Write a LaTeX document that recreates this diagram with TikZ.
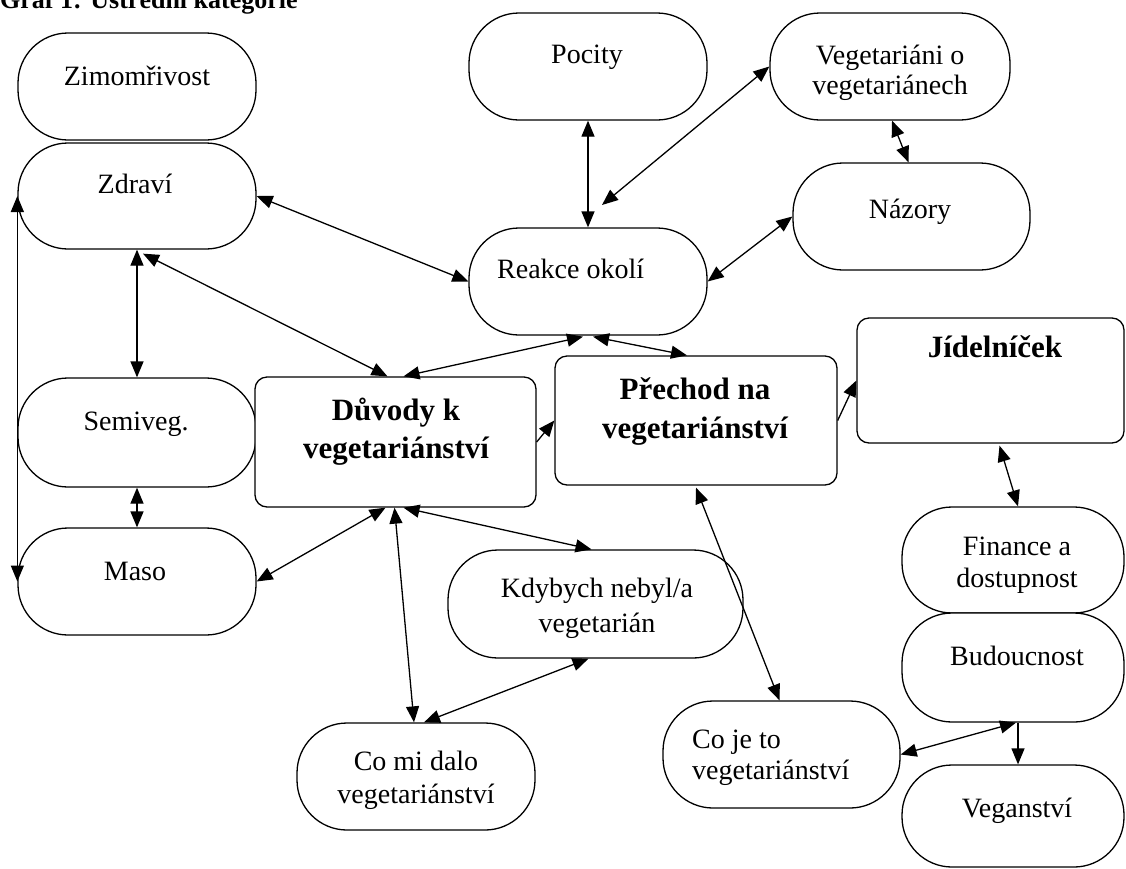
\documentclass[tikz,border=0pt]{standalone}
\usepackage{fontspec}
\setmainfont{Liberation Serif}
\usetikzlibrary{arrows.meta,calc}
\tikzset{
  stad/.style={draw, line width=1.3pt, rounded corners=50pt, inner sep=0pt, fill=white},
  rbox/.style={draw, line width=1.3pt, rounded corners=12pt, inner sep=0pt, fill=white},
  lbl/.style={font=\fontsize{28}{32}\selectfont, anchor=base, inner sep=0pt},
  lblw/.style={font=\fontsize{28}{32}\selectfont, anchor=base west, inner sep=0pt},
  blbl/.style={font=\fontsize{31}{38}\selectfont\bfseries, anchor=base, inner sep=0pt},
  conn/.style={line width=1.3pt, {Triangle[length=16pt,width=13pt]}-{Triangle[length=16pt,width=13pt]}},
  oneway/.style={line width=1.3pt, -{Triangle[length=16pt,width=13pt]}}
}
\begin{document}
\begin{tikzpicture}[x=1pt,y=-1pt]
\useasboundingbox (0,0) rectangle (1126,868);
% title (cut by the page edge, as in the reference)
\node[font=\fontsize{26}{30}\selectfont\bfseries, anchor=base west, inner sep=0pt] (title) at (0,8) {Graf 1: Ústřední kategorie};
% boxes
\node[stad, minimum width=238pt, minimum height=107pt] (zimo) at (137,86.5) {};
\node[stad, minimum width=238pt, minimum height=106pt] (zdr) at (137,196) {};
\node[stad, minimum width=238pt, minimum height=109pt] (semi) at (137,432.5) {};
\node[stad, minimum width=238pt, minimum height=107pt] (maso) at (137,581.5) {};
\node[rbox, minimum width=281pt, minimum height=130pt] (duv) at (395.5,442) {};
\node[rbox, minimum width=282pt, minimum height=129pt] (pre) at (696,420.5) {};
\node[rbox, minimum width=267pt, minimum height=125pt] (jid) at (990.5,380.5) {};
\node[stad, minimum width=238pt, minimum height=107pt] (poc) at (588,66.5) {};
\node[stad, minimum width=240pt, minimum height=107pt] (veg) at (890,66.5) {};
\node[stad, minimum width=237pt, minimum height=107pt] (naz) at (911.5,216.5) {};
\node[stad, minimum width=238pt, minimum height=107pt] (reak) at (588,281.5) {};
\node[stad, minimum width=295pt, minimum height=108pt] (kdy) at (595.5,604) {};
\node[stad, minimum width=222pt, minimum height=106pt] (fin) at (1013,560) {};
\node[stad, minimum width=222pt, minimum height=109pt] (bud) at (1013,667.5) {};
\node[stad, minimum width=222pt, minimum height=102pt] (vegan) at (1013,816) {};
\node[stad, minimum width=237pt, minimum height=107pt] (coje) at (781.5,754.5) {};
\node[stad, minimum width=238pt, minimum height=107pt] (comi) at (416,776.5) {};
% texts
\node[lbl] (t1) at (137,85) {Zimomřivost};
\node[lbl] (t2) at (135,193) {Zdraví};
\node[lbl] (t3) at (136,430) {Semiveg.};
\node[lbl] (t4) at (135,580) {Maso};
\node[blbl] (t5a) at (396,420) {Důvody k};
\node[blbl] (t5b) at (396,458) {vegetariánství};
\node[blbl] (t6a) at (695,399) {Přechod na};
\node[blbl] (t6b) at (695,438) {vegetariánství};
\node[blbl] (t7) at (995,357) {Jídelníček};
\node[lbl] (t8) at (587,63) {Pocity};
\node[lbl] (t9a) at (890,64) {Vegetariáni o};
\node[lbl] (t9b) at (890,94) {vegetariánech};
\node[lbl] (t10) at (910,218) {Názory};
\node[lblw] (t11) at (497,278) {Reakce okolí};
\node[lbl] (t12a) at (597,597) {Kdybych nebyl/a};
\node[lbl] (t12b) at (597,632) {vegetarián};
\node[lbl] (t13a) at (1017,555) {Finance a};
\node[lbl] (t13b) at (1017,587) {dostupnost};
\node[lbl] (t14) at (1017,665) {Budoucnost};
\node[lbl] (t15) at (1017,817) {Veganství};
\node[lblw] (t16a) at (692,748) {Co je to};
\node[lblw] (t16b) at (692,779) {vegetariánství};
\node[lbl] (t17a) at (416,770) {Co mi dalo};
\node[lbl] (t17b) at (416,803) {vegetariánství};
% free end
\coordinate (vfree) at (602,205);
% connectors
\draw[conn] (zdr.west) -- (maso.west);
\draw[conn] (zdr.south) -- (semi.north);
\draw[conn] (semi.south) -- (maso.north);
\draw[conn] (zdr.east) -- (reak.west);
\draw[conn] ($(zdr.south)+(6,4)$) -- ($(duv.north)+(-8,0)$);
\draw[conn] ($(reak.south)+(-5,1)$) -- ($(duv.north)+(8,0)$);
\draw[conn] ($(reak.south)+(5,1)$) -- ($(pre.north)+(-9,0)$);
\draw[conn] (poc.south) -- (reak.north);
\draw[conn] (veg.west) -- (vfree);
\draw[conn] ($(veg.south)+(2,0)$) -- ($(naz.north)+(-3,0)$);
\draw[conn] (naz.west) -- (reak.east);
\draw[oneway] (duv.east) -- (pre.west);
\draw[oneway] (pre.east) -- (jid.west);
\draw[conn] ($(jid.south)+(9,2)$) -- ($(fin.north)+(5,0)$);
\draw[conn] ($(duv.south)+(-10,0)$) -- (maso.east);
\draw[conn] ($(duv.south)+(8,0)$) -- ($(kdy.north)+(-4,0)$);
\draw[conn] ($(duv.south)+(-1,0)$) -- ($(comi.north)+(-2,0)$);
\draw[conn] ($(kdy.south)+(-7,0)$) -- ($(comi.north)+(8,0)$);
\draw[conn] ($(pre.south)+(0,2)$) -- ($(coje.north)+(-2,0)$);
\draw[conn] (coje.east) -- ($(bud.south)+(3,0)$);
\draw[oneway] ($(bud.south)+(5,0)$) -- ($(vegan.north)+(5,0)$);
\end{tikzpicture}
\end{document}
